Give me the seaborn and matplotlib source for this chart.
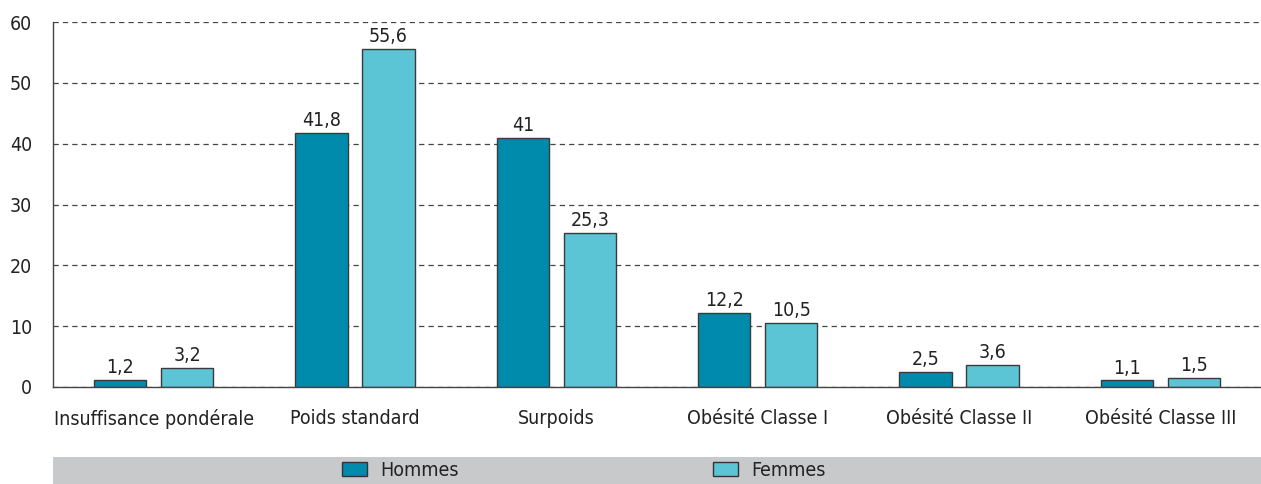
import numpy as np
import pandas as pd
import matplotlib
matplotlib.use("Agg")
import matplotlib.pyplot as plt
import seaborn as sns
from matplotlib.patches import Rectangle, Patch

categories = ["Insuffisance pondérale", "Poids standard", "Surpoids",
              "Obésité Classe I", "Obésité Classe II", "Obésité Classe III"]
hommes = [1.2, 41.8, 41, 12.2, 2.5, 1.1]
femmes = [3.2, 55.6, 25.3, 10.5, 3.6, 1.5]
series = ["Hommes", "Femmes"]
colors = ["#008BAD", "#5BC5D5"]
yticks = [0, 10, 20, 30, 40, 50, 60]

df = pd.DataFrame({
    "cat": categories * 2,
    "val": hommes + femmes,
    "sex": [series[0]] * len(categories) + [series[1]] * len(categories),
})

sns.set_style("white")
plt.rcParams["font.family"] = ["DejaVu Sans"]
plt.rcParams["font.stretch"] = "condensed"
plt.rcParams["text.color"] = "#222222"
FS = 14

fig = plt.figure(figsize=(12.61, 4.84), dpi=100)
ax = fig.add_axes([53 / 1261, 1 - 387 / 484, 1 - 53 / 1261, (387 - 22) / 484])

sns.barplot(data=df, x="cat", y="val", hue="sex", order=categories, hue_order=series,
            palette=colors, saturation=1, width=0.667, gap=0.22, edgecolor="#3a3a3a",
            linewidth=1.0, ax=ax, legend=False, errorbar=None)

for cont in ax.containers:
    labels = [f"{b.get_height():g}".replace(".", ",") for b in cont]
    ax.bar_label(cont, labels=labels, padding=2, fontsize=FS, color="#222222")

ax.set_ylim(0, 60)
ax.set_xlim(-0.5, len(categories) - 0.5)
ax.set_yticks(yticks)
ax.set_xlabel("")
ax.set_ylabel("")
ax.yaxis.grid(True, linestyle=(0, (4.2, 3.3)), color="#444444", linewidth=0.9)
ax.set_axisbelow(True)
for s in ["top", "right"]:
    ax.spines[s].set_visible(False)
for s in ["left", "bottom"]:
    ax.spines[s].set_color("#444444")
    ax.spines[s].set_linewidth(1.0)

ax.tick_params(axis="y", which="major", length=7, color="#444444", labelsize=FS, pad=8,
               direction="out", labelcolor="#222222")
ax.tick_params(axis="x", which="major", length=0, labelsize=FS, pad=16, labelcolor="#222222")
ax.set_xticks(np.arange(len(categories) + 1) - 0.5, minor=True)
ax.tick_params(axis="x", which="minor", length=7, color="#444444", direction="out")

# legend band
fig.patches.append(Rectangle((53 / 1261, 0), 1 - 53 / 1261, 27 / 484,
                             transform=fig.transFigure, facecolor="#C8C9CB",
                             edgecolor="none", zorder=0))
handles = [Patch(facecolor=c, edgecolor="#333333", linewidth=1.0) for c in colors]
fig.legend(handles, series, loc="center left", bbox_to_anchor=(342 / 1261, 13.5 / 484),
           ncol=2, frameon=False, fontsize=FS, handlelength=1.3, handleheight=0.7,
           handletextpad=0.65, columnspacing=13.1, borderpad=0, borderaxespad=0)

fig.savefig("out.png", dpi=100)
